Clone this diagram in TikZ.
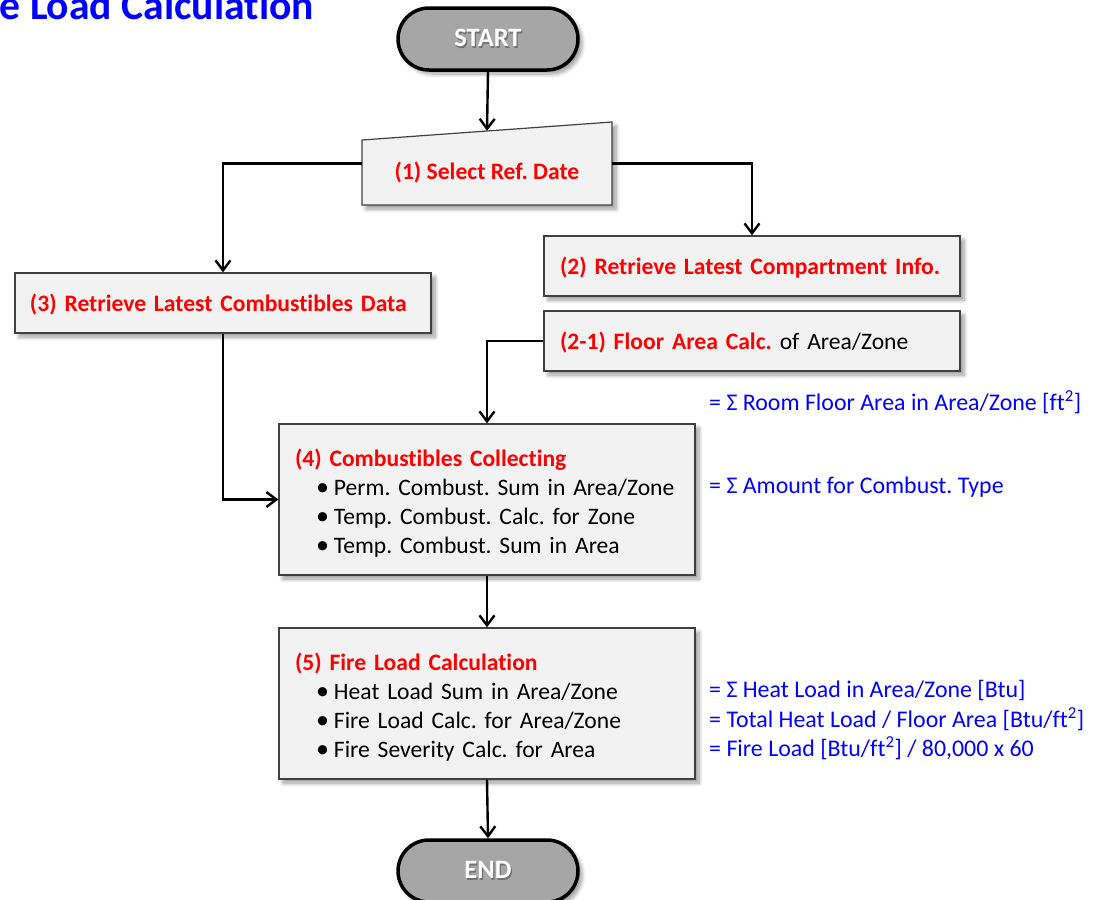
\documentclass[tikz,border=0pt]{standalone}
\usepackage{fontspec}
\setmainfont{Carlito}[Ligatures={NoCommon}]
\usetikzlibrary{arrows.meta,shadows.blur}
\definecolor{boxfill}{HTML}{F2F2F2}
\definecolor{boxline}{HTML}{404040}
\definecolor{termfill}{HTML}{A6A6A6}
\definecolor{myred}{HTML}{FF0000}
\definecolor{myblue}{HTML}{0000FF}
\newcommand\shtext[1]{\rlap{\kern1.2pt\raisebox{-1.5pt}{\textcolor{black!55}{#1}}}#1}
\newcommand\redb[1]{\textcolor{myred}{\bfseries #1}}
\newcommand\bul{\hspace*{21pt}{\fontsize{26}{29}\selectfont•}\hspace{5pt}}
\frenchspacing
\begin{document}
\begin{tikzpicture}[x=1pt,y=-1pt,
  font=\fontsize{23.6}{29}\selectfont\frenchspacing,
  shad/.style={blur shadow={shadow xshift=4pt, shadow yshift=-4pt, shadow blur steps=8, shadow blur radius=4pt, shadow opacity=40}},
  procbox/.style={draw=boxline, line width=1.2pt, fill=boxfill, minimum width=416pt, inner sep=0pt, text width=384pt, align=left, shad},
  term/.style={draw=black, line width=3.5pt, fill=termfill, rounded corners=31pt, minimum width=180pt, minimum height=62pt, text=white, font=\fontsize{26.5}{30}\selectfont\bfseries, shad},
  conn/.style={line width=2.4pt, -{Straight Barb[length=10pt,width=15pt,line width=2.4pt]}},
  note/.style={anchor=west, text=myblue, inner sep=0pt, font=\fontsize{23.9}{29}\selectfont}
]
\useasboundingbox (0,0) rectangle (1093,900);

\node[anchor=base west, text=myblue, inner sep=0pt, font=\fontsize{41.6}{48}\selectfont\bfseries] (title) at (-0.5,19.5) {e Load Calculation};

\node[term] (start) at (488,39) {\shtext{START}};

% (1) manual input shape
\path[draw=boxline, line width=1.2pt, fill=boxfill, shad] (362,205) -- (612,205) -- (612,122) -- (362,140) -- cycle;
\node[inner sep=0pt, minimum width=250pt, minimum height=65pt] (n1) at (487,172.5) {\redb{(1) Select Ref. Date}};
\coordinate (n1top) at ([yshift=9pt]n1.north);
\coordinate (n1l) at ([yshift=9pt]n1.west);
\coordinate (n1r) at ([yshift=9pt]n1.east);

\node[procbox, minimum height=60pt] (n2) at (752,266) {\rule{0pt}{20pt}\redb{(2) Retrieve Latest Compartment Info.}};
\node[procbox, minimum height=60pt] (n21) at (752,341) {\rule{0pt}{20pt}\redb{(2-1) Floor Area Calc.} of Area/Zone};
\node[procbox, minimum height=60pt, text width=386pt] (n3) at (223,303) {\rule{0pt}{20pt}\redb{(3) Retrieve Latest Combustibles Data}};

\node[procbox, minimum height=151pt] (n4) at (487,499.5) {\rule{0pt}{24pt}\redb{(4) Combustibles Collecting}\\
\bul Perm. Combust. Sum in Area/Zone\\
\bul Temp. Combust. Calc. for Zone\\
\bul Temp. Combust. Sum in Area};

\node[procbox, minimum height=151pt] (n5) at (487,703.5) {\rule{0pt}{24pt}\redb{(5) Fire Load Calculation}\\
\bul Heat Load Sum in Area/Zone\\
\bul Fire Load Calc. for Area/Zone\\
\bul Fire Severity Calc. for Area};

\node[term] (end) at (488,871) {\shtext{END}};

\node[note] (a1) at (709,402) {= Σ Room Floor Area in Area/Zone [ft\textsuperscript{2}]};
\node[note] (a2) at (709,487) {= Σ Amount for Combust. Type};
\node[note] (a3) at (709,690) {= Σ Heat Load in Area/Zone [Btu]};
\node[note] (a4) at (709,719) {= Total Heat Load / Floor Area [Btu/ft\textsuperscript{2}]};
\node[note] (a5) at (709,748) {= Fire Load [Btu/ft\textsuperscript{2}] / 80,000 x 60};

\draw[conn] (start.south) -- (n1top);
\draw[conn] (n1l) -| (n3.north);
\draw[conn] (n1r) -| (n2.north);
\draw[conn] (n3.south) |- (n4.west);
\draw[conn] (n21.west) -| (n4.north);
\draw[conn] (n4.south) -- (n5.north);
\draw[conn] (n5.south) -- (end.north);
\end{tikzpicture}
\end{document}
